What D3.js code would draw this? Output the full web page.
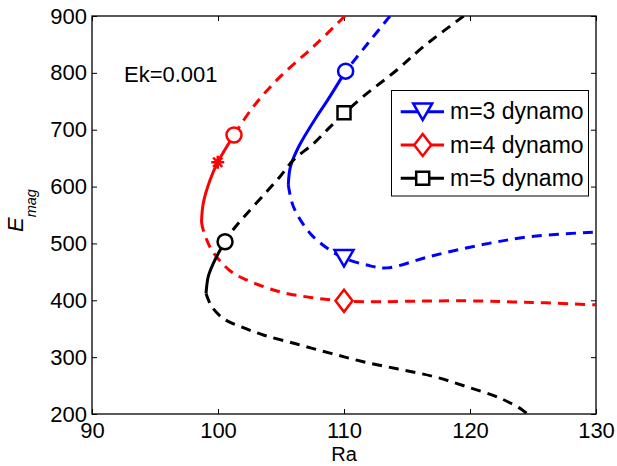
<!DOCTYPE html>
<html>
<head>
<meta charset="utf-8">
<script src="https://cdn.jsdelivr.net/npm/d3@7"></script>
<style>
    body { margin: 0; background: #fff; }
    text { font-family: "Liberation Sans", Arial, Helvetica, sans-serif; fill: #000; }
</style>
</head>
<body>
<div id="chart"></div>
<script>
// x ticks, y ticks
var raTicks = [90, 100, 110, 120, 130];
var emagTicks = [200, 300, 400, 500, 600, 700, 800, 900];

var seriesNames = ['m=3 dynamo', 'm=4 dynamo', 'm=5 dynamo'];

// [Ra, Emag] pairs
// m=3 : upper branch (dashed), stable part (solid), lower branch (dashed)
var m3Upper = [[113.65, 900], [111.9, 852], [110.13, 803]];
var m3Stable = [[110.13, 803], [108.7, 752], [107.8, 722], [106.4, 670], [105.75, 635], [105.58, 603]];
var m3Lower = [[105.58, 603], [105.98, 565], [107.3, 518], [108.9, 488], [110.02, 474], [111.8, 462],
               [113.4, 457], [116.8, 477], [120.8, 497], [124.8, 512], [130, 520]];

// m=4
var m4Upper = [[110.08, 900], [107.57, 846], [104.92, 793], [102.8, 740.5], [101.27, 690.7]];
var m4Stable = [[101.27, 690.7], [99.98, 642.7], [99.37, 611.6], [98.83, 570.6], [98.69, 537.7]];
var m4Lower = [[98.69, 537.7], [98.83, 523.6], [99.5, 488.5], [100.95, 452], [102.28, 435.7], [104.9, 415],
               [107.5, 404.6], [110, 398.8], [112.86, 397.5], [116.7, 398.8], [120.8, 398.8], [123.4, 397],
               [126, 395.5], [130, 392]];

// m=5
var m5Upper = [[119.5, 900], [116.3, 846], [114.2, 805], [111.5, 758], [110.08, 730], [108.9, 705],
               [107.6, 676], [106, 647], [104.9, 617], [101.2, 524], [100.56, 503]];
var m5Stable = [[100.56, 503], [100.16, 488], [99.63, 465], [99.23, 442], [99.05, 412]];
var m5Lower = [[99.05, 412], [99.5, 389], [100.42, 368], [101.75, 354], [103.6, 339], [106.24, 323],
               [108.9, 307], [111.53, 292], [114.3, 279], [117.09, 266], [119.74, 248], [122.38, 228],
               [124.1, 208], [124.5, 201]];

// onset points (circles), series markers, star
var onsetPts = [[110.13, 803], [101.27, 690.7], [100.56, 503]];
var markerPts = [[110, 474], [110, 399], [110, 730]];
var starPt = [99.98, 642.7];

const W = 617, H = 466;
const mLeft = 92, mRight = 596, mTop = 16, mBottom = 414;
const colors = ['#0000ff', '#ff0000', '#000000'];
const shapes = ['triangle', 'diamond', 'square'];

const svg = d3.select('#chart').append('svg')
    .attr('width', W).attr('height', H);

const x = d3.scaleLinear().domain([90, 130]).range([mLeft, mRight]);
const y = d3.scaleLinear().domain([200, 900]).range([mBottom, mTop]);

svg.append('defs').append('clipPath').attr('id', 'plotclip')
    .append('rect').attr('x', mLeft).attr('y', mTop)
    .attr('width', mRight - mLeft).attr('height', mBottom - mTop);

// axes, ticks pointing inward
var styleAxis = function(g) {
    g.selectAll('.domain').remove();
    g.selectAll('.tick line').attr('stroke', '#000').attr('stroke-width', 1);
    g.selectAll('text').style('font-size', '22px').attr('fill', '#000');
};

svg.append('g').attr('transform', `translate(0,${mBottom})`)
    .call(d3.axisBottom(x).tickValues(raTicks).tickSizeInner(-5).tickSizeOuter(0).tickPadding(8))
    .call(styleAxis);
svg.append('g').attr('transform', `translate(0,${mTop})`)
    .call(d3.axisTop(x).tickValues(raTicks).tickSizeInner(-5).tickSizeOuter(0).tickFormat(''))
    .call(styleAxis);
svg.append('g').attr('transform', `translate(${mLeft},0)`)
    .call(d3.axisLeft(y).tickValues(emagTicks).tickSizeInner(-5).tickSizeOuter(0).tickPadding(5))
    .call(styleAxis);
svg.append('g').attr('transform', `translate(${mRight},0)`)
    .call(d3.axisRight(y).tickValues(emagTicks).tickSizeInner(-5).tickSizeOuter(0).tickFormat(''))
    .call(styleAxis);

svg.append('rect')
    .attr('x', mLeft).attr('y', mTop)
    .attr('width', mRight - mLeft).attr('height', mBottom - mTop)
    .attr('fill', 'none').attr('stroke', '#000').attr('stroke-width', 1.3);

// curves
const line = d3.line()
    .x(d => x(d[0])).y(d => y(d[1]))
    .curve(d3.curveCatmullRom.alpha(0.5));

const plot = svg.append('g').attr('clip-path', 'url(#plotclip)');

var drawBranch = function(pts, color, dashed) {
    plot.append('path')
        .datum(pts)
        .attr('d', line)
        .attr('fill', 'none')
        .attr('stroke', color)
        .attr('stroke-width', 3)
        .attr('stroke-linejoin', 'round')
        .attr('stroke-dasharray', dashed ? '10,7' : null);
};

[[m3Upper, m3Stable, m3Lower], [m4Upper, m4Stable, m4Lower], [m5Upper, m5Stable, m5Lower]]
    .forEach((branches, i) => {
        drawBranch(branches[0], colors[i], true);
        drawBranch(branches[1], colors[i], false);
        drawBranch(branches[2], colors[i], true);
    });

// marker shapes
var markerPath = function(shape) {
    if (shape === 'triangle') return 'M-9.5,-8.2L9.5,-8.2L0,8.2Z';
    if (shape === 'diamond') return 'M0,-11L8.5,0L0,11L-8.5,0Z';
    if (shape === 'square') return 'M-6.5,-6.5H6.5V6.5H-6.5Z';
    if (shape === 'star') return 'M-6.5,0H6.5M0,-6.5V6.5M-4.6,-4.6L4.6,4.6M-4.6,4.6L4.6,-4.6';
    return '';
};

var drawMarker = function(g, cx, cy, shape, color) {
    if (shape === 'circle') {
        g.append('circle').attr('cx', cx).attr('cy', cy).attr('r', 7.5)
            .attr('fill', '#fff').attr('stroke', color).attr('stroke-width', 2.5);
    } else {
        g.append('path').attr('d', markerPath(shape))
            .attr('transform', `translate(${cx},${cy})`)
            .attr('fill', shape === 'star' ? 'none' : '#fff')
            .attr('stroke', color).attr('stroke-width', 2.5);
    }
};

onsetPts.forEach((p, i) => drawMarker(svg, x(p[0]), y(p[1]), 'circle', colors[i]));
markerPts.forEach((p, i) => drawMarker(svg, x(p[0]), y(p[1]), shapes[i], colors[i]));
drawMarker(svg, x(starPt[0]), y(starPt[1]), 'star', colors[1]);

// annotation
svg.append('text').attr('x', 124).attr('y', 82)
    .style('font-size', '22px').text('Ek=0.001');

// axis labels
svg.append('text').attr('x', (mLeft + mRight) / 2).attr('y', 461)
    .attr('text-anchor', 'middle').style('font-size', '20px').text('Ra');

const ylab = svg.append('text')
    .attr('transform', 'translate(23,232) rotate(-90)')
    .style('font-size', '22px').style('font-style', 'italic');
ylab.append('tspan').text('E');
ylab.append('tspan').attr('dy', 13).style('font-size', '14.5px').text('mag');

// legend
const lg = svg.append('g');
lg.append('rect').attr('x', 391.5).attr('y', 90.5).attr('width', 197).attr('height', 105.5)
    .attr('fill', '#fff').attr('stroke', '#000').attr('stroke-width', 1);
seriesNames.forEach((name, i) => {
    const ly = 111.7 + i * 33.3;
    lg.append('line').attr('x1', 400.7).attr('x2', 444).attr('y1', ly).attr('y2', ly)
        .attr('stroke', colors[i]).attr('stroke-width', 3);
    drawMarker(lg, 422.7, ly, shapes[i], colors[i]);
    lg.append('text').attr('x', 450).attr('y', ly + 7.5)
        .style('font-size', '23px').text(name);
});
</script>
</body>
</html>
